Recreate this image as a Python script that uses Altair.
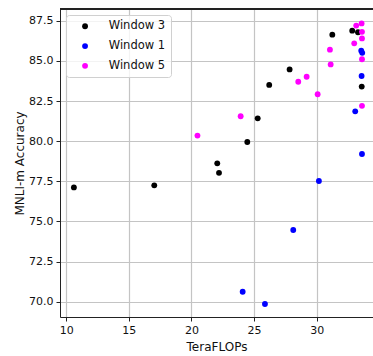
import altair as alt
import pandas as pd

series_order = ["Window 3", "Window 1", "Window 5"]
series_colors = ["#000000", "#0000ff", "#ff00ff"]

w3_flops = [10.61, 17.03, 22.06, 22.2, 24.46, 25.29, 26.21, 27.84, 31.25, 32.84, 33.3, 33.6]
w3_acc = [77.12, 77.25, 78.62, 78.03, 79.95, 81.42, 83.5, 84.47, 86.63, 86.88, 86.78, 83.4]

w1_flops = [24.09, 25.87, 28.13, 30.18, 33.08, 33.62, 33.59, 33.56, 33.64]
w1_acc = [70.62, 69.86, 74.47, 77.52, 81.86, 79.2, 84.06, 85.63, 85.5]

w5_flops = [20.48, 23.93, 28.53, 29.2, 30.08, 31.06, 31.12, 33.0, 33.16, 33.59, 33.62, 33.62, 33.62, 33.62]
w5_acc = [80.35, 81.55, 83.7, 84.01, 82.92, 85.7, 84.78, 86.09, 87.2, 87.33, 86.81, 86.4, 85.1, 82.2]

x_ticks = [10, 15, 20, 25, 30]
y_ticks = [70.0, 72.5, 75.0, 77.5, 80.0, 82.5, 85.0, 87.5]

rows = []
for name, xs, ys in [("Window 3", w3_flops, w3_acc), ("Window 1", w1_flops, w1_acc), ("Window 5", w5_flops, w5_acc)]:
    for xv, yv in zip(xs, ys):
        rows.append({"series": name, "TeraFLOPs": xv, "acc": yv})
df = pd.DataFrame(rows)
df["order"] = range(len(df))

W, H = 313, 308
FONT = "DejaVu Sans"

points = alt.Chart(df).mark_circle(size=34, opacity=1).encode(
    x=alt.X("TeraFLOPs:Q", title="TeraFLOPs",
            scale=alt.Scale(domain=[9.5, 34.5], nice=False, zero=False),
            axis=alt.Axis(values=x_ticks, format="d", orient="bottom", titlePadding=6)),
    y=alt.Y("acc:Q", title="MNLI-m Accuracy",
            scale=alt.Scale(domain=[69.05, 88.23], nice=False, zero=False),
            axis=alt.Axis(values=y_ticks, format=".1f", titlePadding=2)),
    color=alt.Color("series:N", scale=alt.Scale(domain=series_order, range=series_colors),
                    legend=alt.Legend(title=None, orient="none", legendX=6, legendY=6,
                                      padding=5.5, symbolOffset=7.8, labelOffset=18,
                                      rowPadding=6.8, symbolSize=34, symbolType="circle",
                                      labelFontSize=11.5, labelFont=FONT, labelColor="#111",
                                      fillColor="rgba(255,255,255,0.8)", strokeColor="#d0d0d0",
                                      cornerRadius=3)),
    order=alt.Order("order:Q"),
)

top_border = alt.Chart(df).mark_rule(color="#222", strokeWidth=1).encode(
    x=alt.value(0), x2=alt.value(W), y=alt.value(0)
)

chart = alt.layer(points, top_border).properties(
    width=W, height=H,
    autosize=alt.AutoSizeParams(type="none"),
    padding={"left": 60, "top": 9, "right": 0, "bottom": 39},
).configure_view(stroke=None).configure_axis(
    grid=True, gridColor="#c4c4c4", gridWidth=1.2,
    domainColor="#222", domainWidth=1,
    tickColor="#222", tickSize=4, tickWidth=1,
    labelFont=FONT, labelFontSize=11, labelColor="#111", labelPadding=3,
    titleFont=FONT, titleFontSize=12, titleFontWeight="normal", titleColor="#111",
)

chart.save("out.html", embed_options={"renderer": "svg", "actions": False})
